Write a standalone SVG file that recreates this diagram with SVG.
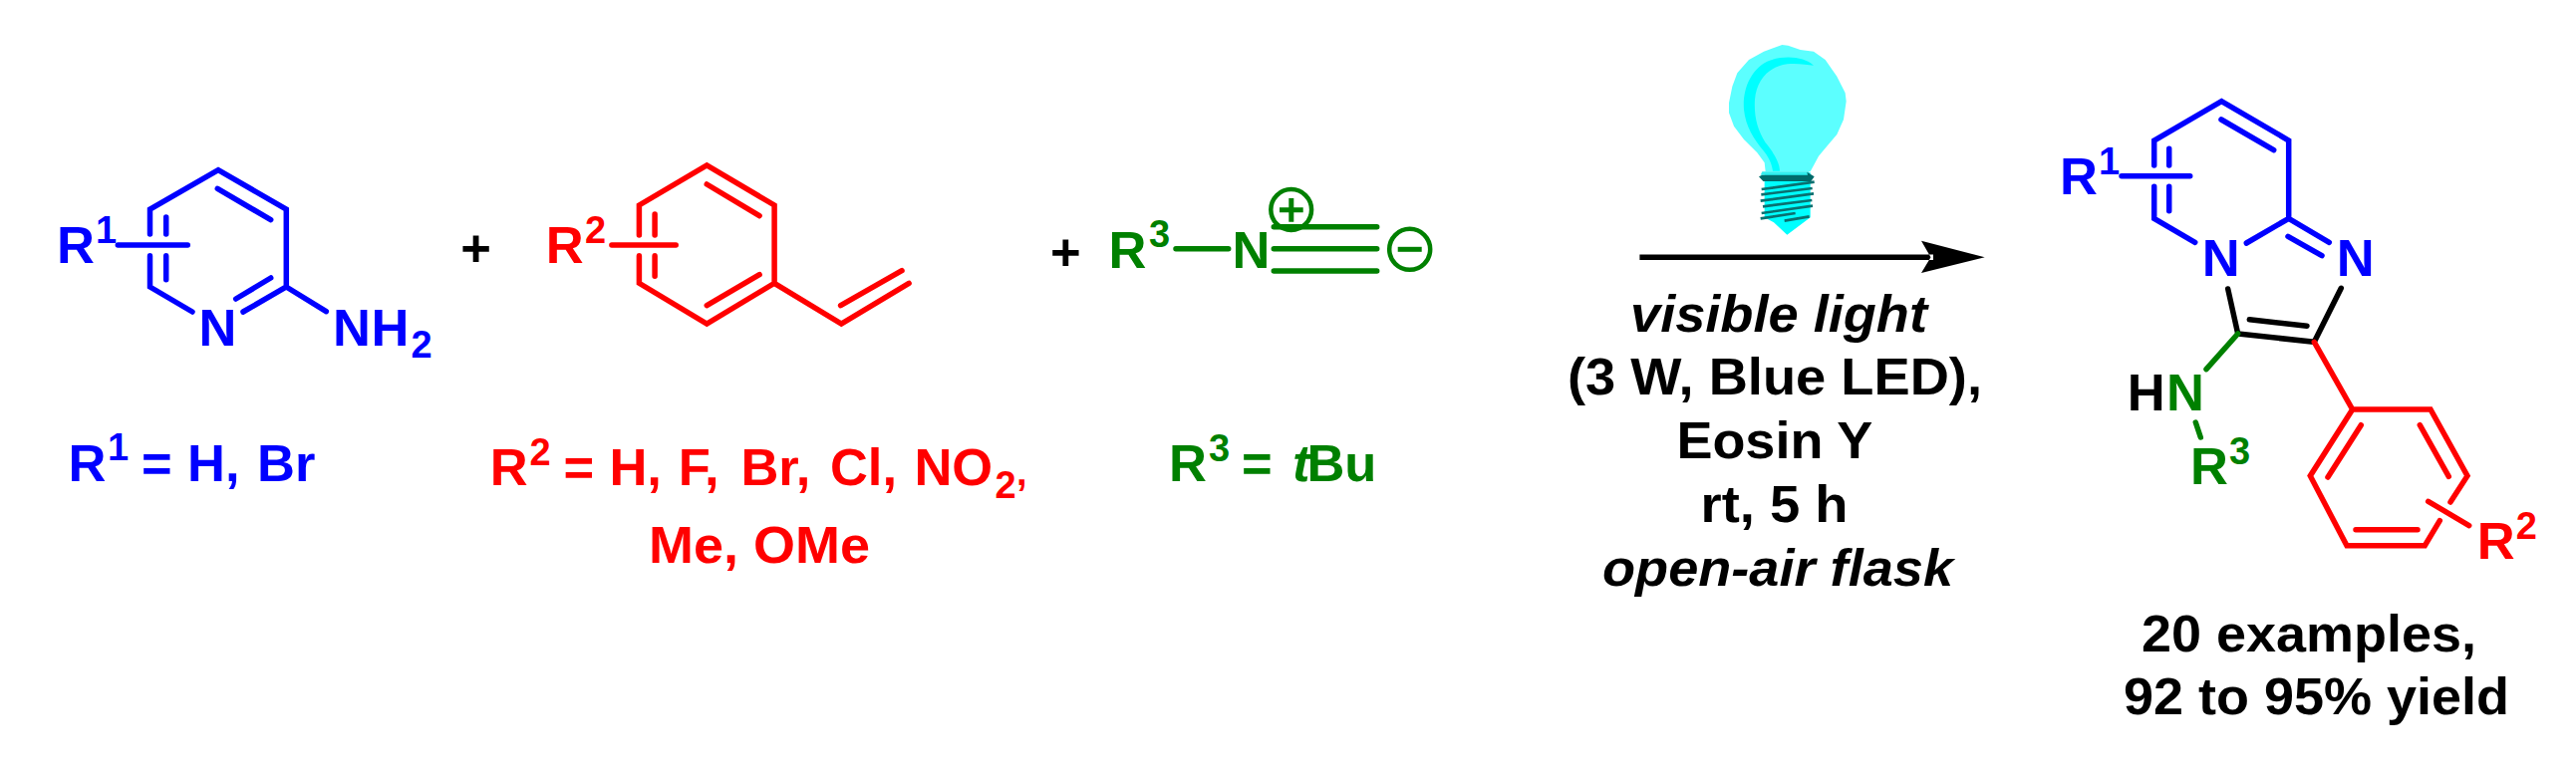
<svg xmlns="http://www.w3.org/2000/svg" width="2585" height="781" viewBox="0 0 2585 781">
<style>
text{font-family:"Liberation Sans",Arial,sans-serif;font-weight:700;font-size:52.5px}
.s{font-size:38px}
.c{text-anchor:middle}
.i{font-style:italic}
.bl{fill:#0000ff}.rd{fill:#ff0000}.gr{fill:#008000}.k{fill:#000}
path.b{fill:none;stroke-width:5.5;stroke-linecap:round;stroke-linejoin:miter}
path.u{fill:none;stroke-width:5;stroke-linecap:butt}
.B{stroke:#0000ff}.R{stroke:#ff0000}.G{stroke:#008000}.K{stroke:#000}
.ch{fill:none;stroke:#008000;stroke-width:4.5}
</style>
<rect width="2585" height="781" fill="#fff"/>
<g id="connectors">
<path id="reaction-arrow" d="M1645.4,255.6H1940V261H1645.4Z M1991.7,258.3L1928,241.7L1937.5,258.3L1928,274Z" fill="#000"/>
</g>
<g id="aminopyridine">
<path class="b B" d="M150.5,235V210L219,170.7L287.3,210V288L244,313M218.3,189.3L271.7,220.7M150.5,256.7V288L193,313M271.7,279L236.7,300M287.3,288L327.3,312.7M166.7,218V235M166.7,256.7V280.7M118.3,246H188.3"/>
<text x="57" y="264.3" class="bl">R</text><text x="96" y="244" class="bl s">1</text>
<text x="199.4" y="346.7" class="bl">N</text>
<text x="334 372.5" y="346.7" class="bl">NH</text><text x="412.5" y="359" class="bl s">2</text>
</g>
<g id="plus-1"><text x="477.5" y="267" class="c k">+</text></g>
<g id="styrene">
<path class="b R" d="M641.4,236V206L709.3,166L777.1,206V284.3L709.3,325L641.4,284.3V256.7M709.3,185L762.1,216.7M762.1,275.7L709.3,306.7M657.1,215V236M657.1,256.7V277.3M613.9,246H678.2M777.1,284.3L844.3,325L912.1,284.3M843.6,306.7L905,271.7"/>
<text x="547.8" y="264.3" class="rd">R</text><text x="587" y="244.3" class="rd s">2</text>
</g>
<g id="plus-2"><text x="1069.3" y="271" class="c k">+</text></g>
<g id="isocyanide">
<path class="b G" d="M1180,249.7H1232.7M1278.3,227.7H1381.7M1278.3,249.7H1381.7M1278.3,272H1381.7"/>
<text x="1112.4" y="269" class="gr">R</text><text x="1153" y="247.7" class="gr s">3</text>
<text x="1236.4" y="269" class="gr">N</text>
<circle cx="1295.7" cy="210.5" r="20.4" class="ch"/>
<path class="u G" d="M1284,210.8H1307.7M1295.8,199V222.7"/>
<circle cx="1414.7" cy="250.3" r="20.5" class="ch"/>
<path class="u G" d="M1402.7,250.3H1426.7"/>
</g>
<g id="r1-label"><text x="68.4" y="483.3" class="bl">R</text><text x="108" y="462" class="bl s">1</text><text y="483.3" class="bl"><tspan x="142">=</tspan><tspan x="188">H,</tspan><tspan x="258">Br</tspan></text></g>
<g id="r2-label"><text x="491.8" y="487.3" class="rd">R</text><text x="531.5" y="466.7" class="rd s">2</text><text y="487.3" class="rd"><tspan x="565.5">=</tspan><tspan x="611.4">H,</tspan><tspan x="680.7">F,</tspan><tspan x="743.4">Br,</tspan><tspan x="832.9">Cl,</tspan><tspan x="917.4">NO</tspan></text><text x="998.6" y="500" class="rd s">2</text><text x="1020" y="487.3" class="rd s">,</text><text x="651" y="565" class="rd" textLength="222" lengthAdjust="spacingAndGlyphs">Me, OMe</text></g>
<g id="r3-label"><text x="1173" y="483.3" class="gr">R</text><text x="1213" y="462.7" class="gr s">3</text><text y="483.3" class="gr"><tspan x="1246">=</tspan><tspan x="1297" class="i">t</tspan><tspan x="1311.4">Bu</tspan></text></g>
<g id="light-bulb" transform="translate(1700,10) scale(.33333)">
<path fill="#5cffff" d="M265,105L283,107L320,120L360,125L395,150L430,200L455,250L458,275L450,330L430,375L400,410L375,440L350,487H215L212,460L190,430L150,390L120,350L105,310V280L115,230L130,190L165,150L210,125Z"/>
<path fill="#00ffff" d="M360,167C330,140 270,135 220,155C170,180 145,240 150,300C155,350 180,390 210,425C230,450 235,470 237,485H258C258,460 240,430 215,400C190,360 180,320 183,270C188,210 225,170 280,163C310,160 340,165 360,167Z"/>
<path fill="#00ffff" d="M212,490H350V625L330,640L280,677L240,640L212,625Z"/>
<path fill="#33eeee" d="M205,487H345L350,497H200Z"/>
<path fill="#006b6b" d="M195,502L205,497H342L340,488L362,502L352,516H208Z"/>
<path fill="none" stroke="#0a7070" stroke-width="8" d="M203,540L362,518M202,556L356,537M200,575L360,553M207,592L355,573M203,612L357,590M200,628L305,612M272,635L347,622"/>
</g>
<g id="conditions">
<text x="1636" y="333.3" class="k i" textLength="298" lengthAdjust="spacingAndGlyphs">visible light</text>
<text x="1573" y="396" class="k" textLength="416" lengthAdjust="spacingAndGlyphs">(3 W, Blue LED),</text>
<text x="1682.4" y="460" class="k" textLength="197" lengthAdjust="spacingAndGlyphs">Eosin Y</text>
<text x="1706.5" y="524" class="k" textLength="148" lengthAdjust="spacingAndGlyphs">rt, 5 h</text>
<text x="1608" y="588.3" class="k i" textLength="352" lengthAdjust="spacingAndGlyphs">open-air flask</text>
</g>
<g id="product">
<path class="b B" d="M2161.7,166V141L2229.3,101.7L2296.7,141V219.3L2254.3,244M2229,120L2281.7,150.7M2161.7,187.3V219.3L2202.7,243.3M2296.7,219.3L2337.3,243.3M2296,237.3L2330,256.7M2176.7,149.3V166M2176.7,187.3V211.7M2129,176.7H2197.7"/>
<path class="b K" d="M2235.7,290L2245.7,335L2322.3,343.3L2349.3,289.3M2257.3,320.7L2315,327.3"/>
<path class="b G" d="M2245.7,335L2214,370.7M2203.3,424L2208.3,439"/>
<path class="b R" d="M2322.3,343.3L2360.7,411H2439L2476,477.7L2459,504M2448.3,522.7L2433.3,547.7H2355L2318.3,477.7L2360.7,411M2436.7,503.3L2477.7,527.7M2369.3,426.7L2336,479M2428.3,426.7L2457.3,478.3M2364,531.7H2426"/>
<text x="2067" y="195" class="bl">R</text><text x="2106" y="175" class="bl s">1</text>
<text x="2209.7" y="277.3" class="bl">N</text><text x="2344.7" y="277.3" class="bl">N</text>
<text x="2134.7" y="411.7" class="k">H</text><text x="2174" y="411.7" class="gr">N</text>
<text x="2198" y="486" class="gr">R</text><text x="2237" y="466" class="gr s">3</text>
<text x="2485.7" y="560.7" class="rd">R</text><text x="2524.7" y="540.7" class="rd s">2</text>
</g>
<g id="yield">
<text x="2149" y="654" class="k" textLength="336" lengthAdjust="spacingAndGlyphs">20 examples,</text>
<text x="2131" y="716.7" class="k" textLength="387" lengthAdjust="spacingAndGlyphs">92 to 95% yield</text>
</g>
</svg>
